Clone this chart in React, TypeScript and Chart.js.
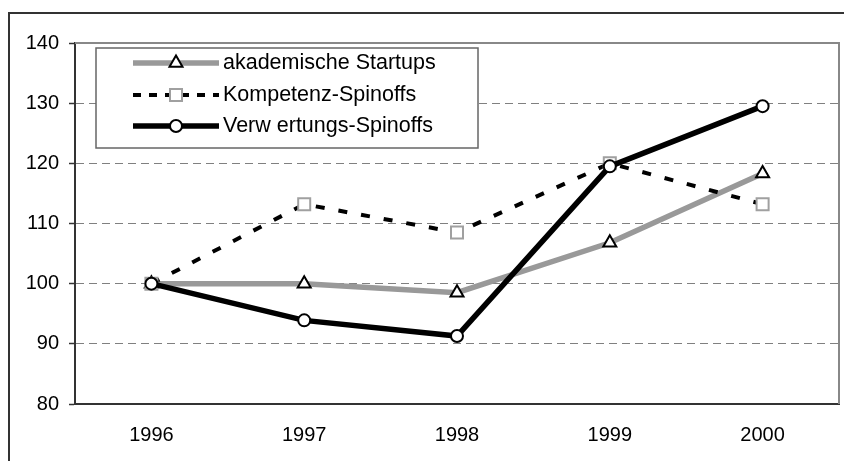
import React, { useEffect, useRef } from "react";
import { Chart, registerables } from "chart.js";

Chart.register(...registerables);

// ---- data ----
const years = ["1996", "1997", "1998", "1999", "2000"];
const akademischeStartups = [100, 100, 98.5, 106.8, 118.3];
const kompetenzSpinoffs = [100, 113.2, 108.5, 120.0, 113.2];
const verwertungsSpinoffs = [100, 93.9, 91.3, 119.5, 129.5];
const seriesLabels = ["akademische Startups", "Kompetenz-Spinoffs", "Verw ertungs-Spinoffs"];
const yMin = 80;
const yMax = 140;
const yStep = 10;

const FONT = "'Liberation Sans', Arial, Helvetica, sans-serif";

type Marker = "triangle" | "rect" | "circle";

const styles = [
  { color: "#999999", width: 5.5, dash: [] as number[], marker: "triangle" as Marker, r: 7.5, mBorder: "#000000", mWidth: 2 },
  { color: "#000000", width: 4, dash: [9, 14], marker: "rect" as Marker, r: 8.5, mBorder: "#a0a0a0", mWidth: 2 },
  { color: "#000000", width: 5.5, dash: [] as number[], marker: "circle" as Marker, r: 6, mBorder: "#000000", mWidth: 2 },
];

function drawMarker(ctx: CanvasRenderingContext2D, m: Marker, x: number, y: number, r: number, border: string, bw: number) {
  ctx.save();
  ctx.setLineDash([]);
  ctx.beginPath();
  if (m === "circle") {
    ctx.arc(x, y, r, 0, Math.PI * 2);
  } else if (m === "rect") {
    const s = Math.SQRT1_2 * r;
    ctx.rect(x - s, y - s, 2 * s, 2 * s);
  } else {
    const a = (2 * Math.PI) / 3;
    ctx.moveTo(x, y - r);
    ctx.lineTo(x + Math.sin(a) * r, y - Math.cos(a) * r);
    ctx.lineTo(x - Math.sin(a) * r, y - Math.cos(a) * r);
    ctx.closePath();
  }
  ctx.fillStyle = "#ffffff";
  ctx.fill();
  ctx.lineWidth = bw;
  ctx.strokeStyle = border;
  ctx.stroke();
  ctx.restore();
}

const frameLegendPlugin = {
  id: "frameLegend",
  beforeDatasetsDraw(chart: any) {
    const { ctx, chartArea } = chart;
    ctx.save();
    ctx.strokeStyle = "#888888";
    ctx.lineWidth = 2;
    ctx.beginPath();
    ctx.moveTo(chartArea.left, chartArea.top);
    ctx.lineTo(chartArea.right, chartArea.top);
    ctx.lineTo(chartArea.right, chartArea.bottom);
    ctx.stroke();
    ctx.restore();
  },
  afterDraw(chart: any) {
    const ctx: CanvasRenderingContext2D = chart.ctx;
    ctx.save();
    const bx = 96, by = 48, bw = 382, bh = 100;
    ctx.fillStyle = "#ffffff";
    ctx.fillRect(bx, by, bw, bh);
    ctx.strokeStyle = "#666666";
    ctx.lineWidth = 1.5;
    ctx.strokeRect(bx, by, bw, bh);
    const rows = [63, 95, 126];
    seriesLabels.forEach((label, i) => {
      const s = styles[i];
      const y = rows[i];
      ctx.save();
      ctx.setLineDash(s.dash.length ? [8, 8] : []);
      ctx.strokeStyle = s.color;
      ctx.lineWidth = s.width;
      ctx.beginPath();
      ctx.moveTo(133, y);
      ctx.lineTo(219, y);
      ctx.stroke();
      ctx.restore();
      drawMarker(ctx, s.marker, 176, y, s.r, s.mBorder, s.mWidth);
      ctx.fillStyle = "#000000";
      ctx.font = `21.5px ${FONT}`;
      ctx.textAlign = "left";
      ctx.textBaseline = "middle";
      ctx.fillText(label, 223, y);
    });
    ctx.restore();
  },
};

export default function App() {
  const ref = useRef<HTMLCanvasElement | null>(null);

  useEffect(() => {
    if (!ref.current) return;
    const series = [akademischeStartups, kompetenzSpinoffs, verwertungsSpinoffs];
    const chart = new Chart(ref.current, {
      type: "line",
      data: {
        labels: years,
        datasets: series.map((d, i) => ({
          label: seriesLabels[i],
          data: d,
          borderColor: styles[i].color,
          borderWidth: styles[i].width,
          borderDash: styles[i].dash,
          tension: 0,
          fill: false,
          pointStyle: styles[i].marker,
          pointRadius: styles[i].r,
          pointBorderWidth: styles[i].mWidth,
          pointBorderColor: styles[i].mBorder,
          pointBackgroundColor: "#ffffff",
          order: 2 - i,
        })),
      },
      options: {
        animation: false,
        responsive: false,
        devicePixelRatio: 1,
        layout: { autoPadding: false, padding: { left: 0, right: 5, top: 43, bottom: 0 } },
        plugins: { legend: { display: false }, tooltip: { enabled: false }, title: { display: false } },
        scales: {
          x: {
            offset: true,
            grid: { display: false, drawTicks: false, offset: true },
            border: { display: true, color: "#333333", width: 2 },
            ticks: { color: "#000000", font: { family: FONT, size: 20 }, padding: 19 },
            afterFit: (s: any) => { s.height = 57; },
          },
          y: {
            min: yMin,
            max: yMax,
            grid: {
              color: (c: any) => (c.tick && (c.tick.value === yMin || c.tick.value === yMax) ? "rgba(0,0,0,0)" : "#808080"),
              lineWidth: 1,
              tickColor: "#333333",
              tickLength: 6,
              tickWidth: 1.5,
              drawTicks: true,
            },
            border: { display: true, color: "#333333", width: 2, dash: [8, 5] },
            ticks: { stepSize: yStep, color: "#000000", font: { family: FONT, size: 20 }, padding: 10 },
            afterFit: (s: any) => { s.width = 75; },
          },
        },
      },
      plugins: [frameLegendPlugin],
    } as any);
    return () => chart.destroy();
  }, []);

  return (
    <div style={{ position: "fixed", left: 0, top: 0, width: 844, height: 461, overflow: "hidden", background: "#ffffff" }}>
      <div
        style={{
          position: "absolute",
          left: 8,
          top: 12,
          width: 900,
          height: 500,
          borderTop: "2px solid #333333",
          borderLeft: "2px solid #333333",
          boxSizing: "border-box",
        }}
      />
      <canvas ref={ref} width={844} height={461} style={{ position: "absolute", left: 0, top: 0, width: 844, height: 461 }} />
    </div>
  );
}
